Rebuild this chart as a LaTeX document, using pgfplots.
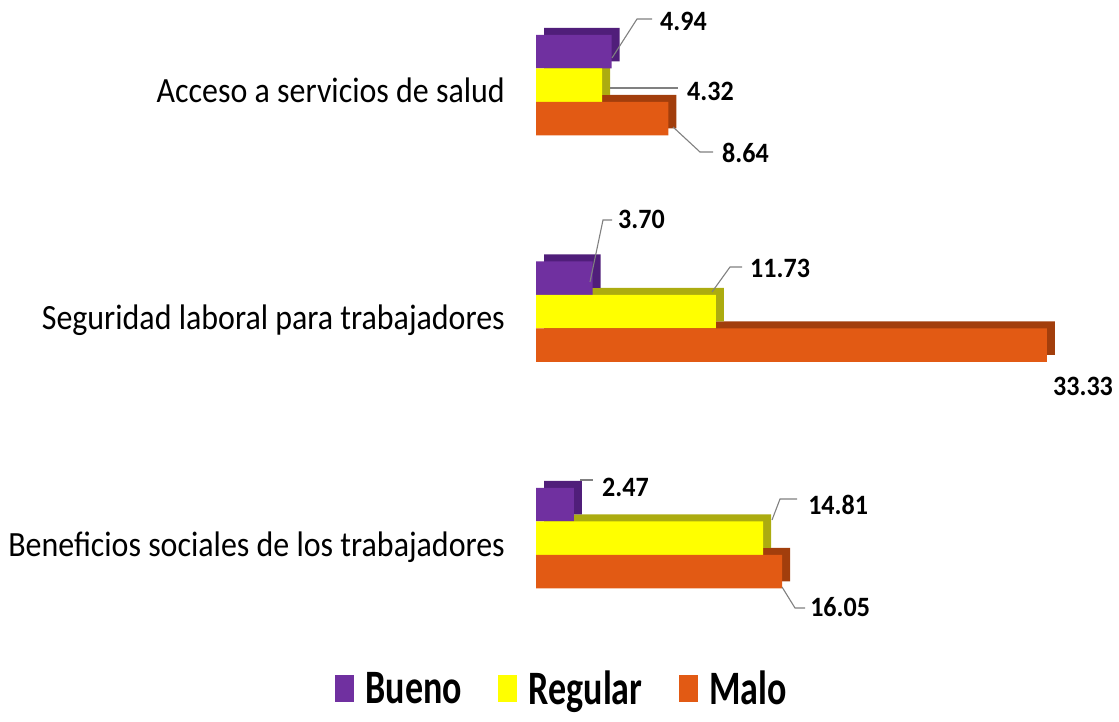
\documentclass[border=0pt]{standalone}
\usepackage{pgfplots}
\pgfplotsset{compat=1.18}
\usepackage{pgfplotstable}
\usepackage{fontspec}
\setmainfont{Carlito}
\newfontfamily\catfont{Carlito}[FakeStretch=0.9]
\newfontfamily\numfont{Carlito}[FakeStretch=0.93]
\newfontfamily\legfont{Carlito}[FakeStretch=0.75]

\definecolor{cBueno}{RGB}{112,48,160}
\definecolor{cBuenoD}{RGB}{80,30,122}
\definecolor{cReg}{RGB}{255,255,0}
\definecolor{cRegD}{RGB}{172,172,16}
\definecolor{cMalo}{RGB}{226,90,20}
\definecolor{cMaloD}{RGB}{162,62,12}

% y = bar centre (pixels from top), x = value, ldx/ldy = label offset (pt)
\pgfplotstableread{
y     x     ldx   ldy
51.5  4.94  48.3  30.5
278   3.70  25.3  59
504.5 2.47  28.1  17.5
}\bueno
\pgfplotstableread{
y     x      ldx   ldy
85    4.32   84.8  -6
311.5 11.73  34.2  43.5
538   14.81  45    33
}\regular
\pgfplotstableread{
y     x      ldx   ldy
118.5 8.64   53.5  -34.5
345   33.33  6     -41
571.5 16.05  28    -35.5
}\malo

\pgfplotsset{
  lab/.style={
    point meta=x,
    nodes near coords={\pgfmathprintnumber[fixed,fixed zerofill,precision=2,assume math mode=true]{\pgfplotspointmeta}},
    visualization depends on={\thisrow{ldx}\as\labdx},
    visualization depends on={\thisrow{ldy}\as\labdy},
    every node near coord/.append style={anchor=west, inner sep=0pt,
      xshift=\labdx pt, yshift=\labdy pt, text=black,
      font=\numfont\bfseries\fontsize{28}{30}\selectfont},
  }
}

\begin{document}
\begin{tikzpicture}
\begin{axis}[
  x=15.33pt, y=1pt, y dir=reverse,
  xmin=-34.964, xmax=38.03, ymin=0, ymax=721,
  hide axis, clip=false,
  xbar, bar width=33.5, bar shift=0pt,
  legend columns=3,
  legend image code/.code={\fill[#1] (0pt,-13pt) rectangle (19pt,14pt);},
  legend style={at={(axis description cs:0.502,0.045)}, anchor=center,
    draw=none, fill=none, inner sep=0pt, column sep=10pt,
    font=\legfont\bfseries\fontsize{48}{50}\selectfont,
    /tikz/every even column/.append style={column sep=34pt}},
]
% depth faces
\addplot[fill=cMaloD, draw=none, forget plot, xshift=8pt, yshift=7pt] table[x=x,y=y]{\malo};
\addplot[fill=cRegD, draw=none, forget plot, xshift=8pt, yshift=7pt] table[x=x,y=y]{\regular};
\addplot[fill=cBuenoD, draw=none, forget plot, xshift=8pt, yshift=7pt] table[x=x,y=y]{\bueno};
% front faces
\addplot[fill=cBueno, draw=none, lab] table[x=x,y=y]{\bueno};
\addlegendentry{Bueno}
\addplot[fill=cReg, draw=none, lab] table[x=x,y=y]{\regular};
\addlegendentry{Regular}
\addplot[fill=cMalo, draw=none, lab] table[x=x,y=y]{\malo};
\addlegendentry{Malo}
\coordinate (TL) at (axis cs:-34.964,0);
\end{axis}
\begin{scope}[shift={(TL)}, x=1pt, y=-1pt]
  \begin{scope}[draw={rgb,255:red,128;green,128;blue,128}, line width=1.1pt]
    \draw (612,58) -- (637,19) -- (652,19);
    \draw (610,88) -- (678,88);
    \draw (673,127) -- (700,152) -- (713,152);
    \draw (590,282) -- (603,220) -- (612,220);
    \draw (712,292) -- (730,267) -- (742,267);
    \draw (580,480) -- (593,480);
    \draw (772,520) -- (780,499) -- (797,499);
    \draw (782,587) -- (795,608) -- (805,608);
  \end{scope}
  \begin{scope}[every node/.style={anchor=base east, inner sep=0pt,
      font=\catfont\fontsize{35.5}{40}\selectfont}]
    \node at (505,103) {Acceso a servicios de salud};
    \node at (505,329.5) {Seguridad laboral para trabajadores};
    \node at (505,556) {Beneficios sociales de los trabajadores};
  \end{scope}
\end{scope}
\pgfresetboundingbox
\path[use as bounding box] (TL) rectangle ++(1119pt,-721pt);
\end{tikzpicture}
\end{document}
